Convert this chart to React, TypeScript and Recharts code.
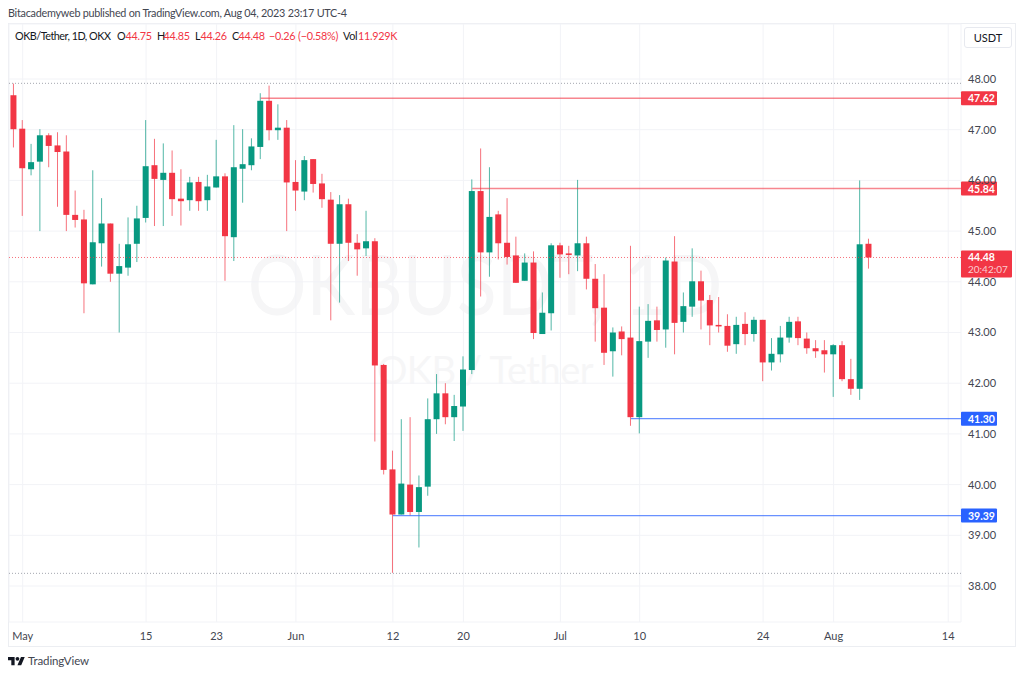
import { Bar, CartesianGrid, ComposedChart, ReferenceLine, XAxis, YAxis } from "recharts";

const opens = [47.68, 47.02, 46.22, 46.37, 46.89, 46.69, 46.57, 45.32, 45.23, 43.95, 44.76, 45.15, 44.16, 44.28, 44.75, 45.26, 46.30, 46.01, 46.15, 45.64, 45.61, 45.97, 45.61, 45.86, 46.08, 44.88, 46.23, 46.30, 46.66, 47.57, 46.99, 47.04, 45.97, 45.78, 46.42, 45.94, 45.62, 44.75, 45.53, 44.77, 44.66, 44.80, 42.36, 40.30, 39.41, 40.00, 39.46, 39.96, 41.29, 41.80, 41.33, 41.54, 42.26, 45.79, 44.58, 45.33, 44.77, 44.52, 44.02, 44.38, 42.97, 43.38, 44.72, 44.56, 44.52, 44.76, 44.06, 43.49, 42.63, 43.02, 42.90, 41.33, 42.82, 43.24, 43.06, 44.40, 43.21, 43.51, 44.01, 43.64, 43.15, 43.13, 42.77, 43.17, 42.97, 43.25, 42.41, 42.57, 42.90, 43.22, 42.88, 42.69, 42.65, 42.57, 42.75, 42.08, 41.89, 44.75];
const closes = [47.01, 46.24, 46.36, 46.89, 46.68, 46.56, 45.32, 45.22, 43.97, 44.78, 45.15, 44.16, 44.31, 44.74, 45.25, 46.28, 46.03, 46.15, 45.63, 45.59, 45.96, 45.59, 45.88, 46.08, 44.90, 46.26, 46.32, 46.67, 47.57, 46.99, 47.04, 45.96, 45.80, 46.40, 45.93, 45.63, 44.75, 45.53, 44.77, 44.64, 44.80, 42.35, 40.29, 39.41, 40.02, 39.46, 39.95, 41.29, 41.80, 41.33, 41.55, 42.27, 45.79, 44.58, 45.28, 44.76, 44.49, 43.98, 44.38, 42.99, 43.39, 44.72, 44.54, 44.53, 44.76, 44.06, 43.48, 42.60, 43.00, 42.87, 41.33, 42.83, 43.23, 43.05, 44.42, 43.19, 43.52, 44.01, 43.63, 43.14, 43.12, 42.74, 43.15, 42.97, 43.25, 42.41, 42.58, 42.90, 43.21, 42.89, 42.69, 42.63, 42.57, 42.75, 42.08, 41.89, 44.74, 44.48];
const highs = [47.91, 47.19, 46.72, 47.01, 46.93, 46.95, 46.89, 45.80, 45.42, 46.20, 45.65, 45.15, 44.75, 45.27, 45.50, 47.19, 46.82, 46.73, 46.59, 46.22, 46.07, 46.07, 46.11, 46.80, 46.14, 47.09, 47.01, 46.83, 47.72, 47.87, 47.50, 47.19, 46.40, 46.48, 46.42, 46.13, 45.77, 45.71, 45.64, 44.94, 45.40, 44.86, 42.38, 40.67, 41.29, 41.33, 40.18, 41.70, 42.18, 42.00, 41.77, 42.53, 46.02, 46.63, 46.26, 45.40, 45.65, 44.89, 44.56, 44.60, 43.79, 44.76, 44.77, 44.71, 46.01, 44.89, 44.35, 44.15, 43.10, 43.12, 44.71, 43.51, 43.56, 43.51, 44.48, 44.90, 43.79, 44.66, 44.22, 43.74, 43.70, 43.36, 43.31, 43.40, 43.31, 43.25, 42.89, 43.13, 43.31, 43.31, 43.00, 42.85, 42.85, 42.77, 42.83, 42.48, 46.00, 44.85];
const lows = [46.65, 45.30, 46.10, 45.00, 46.26, 45.48, 45.00, 45.07, 43.38, 43.95, 44.30, 44.00, 43.00, 44.12, 44.39, 45.17, 45.10, 45.10, 45.30, 45.11, 45.40, 45.40, 45.40, 45.86, 44.02, 44.41, 45.56, 46.20, 46.42, 46.79, 46.80, 45.00, 45.40, 45.61, 45.76, 45.46, 43.24, 43.59, 44.41, 44.12, 44.51, 40.85, 40.20, 38.26, 39.41, 39.39, 38.76, 39.78, 41.00, 41.19, 40.86, 41.06, 42.18, 43.71, 44.10, 44.44, 44.34, 43.98, 44.02, 42.87, 42.97, 43.04, 44.08, 44.15, 44.21, 43.85, 42.82, 42.36, 42.13, 42.55, 41.16, 41.01, 42.50, 42.82, 42.70, 42.57, 43.00, 43.31, 43.06, 42.75, 43.00, 42.62, 42.58, 42.75, 42.82, 42.04, 42.25, 42.41, 42.80, 42.75, 42.58, 42.50, 42.21, 41.73, 42.04, 41.77, 41.67, 44.26];

const dateTicks = [1, 15, 23, 32, 43, 51, 62, 71, 85, 93, 106];
const dateLabels = ["May", "15", "23", "Jun", "12", "20", "Jul", "10", "24", "Aug", "14"];
const priceTicks = [38, 39, 40, 41, 42, 43, 44, 45, 46, 47, 48];

const candles = opens.map((open, i) => ({
    day: i,
    open,
    close: closes[i],
    high: highs[i],
    low: lows[i],
    range: [lows[i], highs[i]],
}));

const UP = "#089981";
const DOWN = "#F23645";
const BLUE = "#2962FF";
const FONT = "Lato, sans-serif";

function Candle(props: any) {
    const { x, y, width, height, payload } = props;
    const color = payload.close >= payload.open ? UP : DOWN;
    const perUnit = height / (payload.high - payload.low);
    const bodyTop = y + (payload.high - Math.max(payload.open, payload.close)) * perUnit;
    const bodyH = Math.max(Math.abs(payload.open - payload.close) * perUnit, 1);
    return (
        <g>
            <line x1={x + width / 2} x2={x + width / 2} y1={y} y2={y + height} stroke={color} strokeOpacity={0.7} strokeWidth={1} />
            <rect x={x} y={bodyTop} width={width} height={bodyH} fill={color} />
        </g>
    );
}

function PriceTag({ viewBox, text, color }: any) {
    const right = viewBox.x + viewBox.width;
    return (
        <g>
            <rect x={right} y={viewBox.y - 7} width={36} height={14} rx={1} fill={color} />
            <text x={right + 7} y={viewBox.y + 4} fill="#fff" fontSize={10.5} fontWeight={700} fontFamily={FONT}>{text}</text>
        </g>
    );
}

function LastTag({ viewBox }: any) {
    const right = viewBox.x + viewBox.width;
    return (
        <g>
            <rect x={right} y={viewBox.y - 7} width={51} height={27} rx={1} fill={DOWN} />
            <text x={right + 7} y={viewBox.y + 4} fill="#fff" fontSize={10.5} fontWeight={700} fontFamily={FONT}>44.48</text>
            <text x={right + 7} y={viewBox.y + 16} fill="#fff" fillOpacity={0.75} fontSize={10} fontFamily={FONT}>20:42:07</text>
        </g>
    );
}

const legendBits = [
    { x: 15, text: "OKB/Tether, 1D, OKX", color: "#131722", spacing: -0.5 },
    { x: 117, text: "O", color: "#131722", spacing: -0.25 },
    { x: 125.5, text: "44.75", color: DOWN, spacing: -0.25 },
    { x: 157, text: "H", color: "#131722", spacing: -0.25 },
    { x: 163.5, text: "44.85", color: DOWN, spacing: -0.25 },
    { x: 195, text: "L", color: "#131722", spacing: -0.25 },
    { x: 200.5, text: "44.26", color: DOWN, spacing: -0.25 },
    { x: 232, text: "C", color: "#131722", spacing: -0.25 },
    { x: 238.5, text: "44.48", color: DOWN, spacing: -0.25 },
    { x: 269, text: "−0.26", color: DOWN, spacing: -0.25 },
    { x: 298, text: "(−0.58%)", color: DOWN, spacing: -0.25 },
    { x: 343, text: "Vol", color: "#131722", spacing: -0.25 },
    { x: 358, text: "11.929K", color: DOWN, spacing: -0.25 },
];

export default function App() {
    return (
        <div style={{ position: "absolute", left: 0, top: 0, width: 1024, height: 676, background: "#fff", overflow: "hidden", fontFamily: FONT }}>
            <div style={{ position: "absolute", left: 8, top: 6, fontSize: 10.8, letterSpacing: -0.25, color: "#434651", whiteSpace: "nowrap" }}>
                Bitacademyweb published on TradingView.com, Aug 04, 2023 23:17 UTC-4
            </div>
            <div style={{ position: "absolute", left: 8, top: 23, width: 1006, height: 622, border: "1px solid #eceef2" }} />
            <div style={{ position: "absolute", left: 9, width: 952, top: 233, textAlign: "center", fontSize: 84, lineHeight: "100px", color: "#f6f6f7", whiteSpace: "nowrap", transform: "scaleX(0.875)" }}>
                OKBUSDT, 1D
            </div>
            <div style={{ position: "absolute", left: 9, width: 952, top: 345, textAlign: "center", fontSize: 38, letterSpacing: -0.5, lineHeight: "48px", color: "#f6f6f7", whiteSpace: "nowrap" }}>
                OKB / Tether
            </div>

            <div style={{ position: "absolute", left: 0, top: 0 }}>
                <ComposedChart width={1024} height={676} data={candles} margin={{ top: 24, right: 0, bottom: 0, left: 9 }}>
                    <CartesianGrid stroke="#f2f3f7" strokeWidth={1} />
                    <XAxis
                        dataKey="day"
                        type="number"
                        domain={[-0.55, 107.45]}
                        ticks={dateTicks}
                        tickFormatter={(v: number) => dateLabels[dateTicks.indexOf(v)]}
                        axisLine={false}
                        tickLine={false}
                        tickMargin={4}
                        interval={0}
                        height={54}
                        tick={{ fill: "#434651", fontSize: 11, fontFamily: FONT }}
                    />
                    <YAxis
                        orientation="right"
                        domain={[37.29, 49.085]}
                        ticks={priceTicks}
                        tickFormatter={(v: number) => v.toFixed(2)}
                        axisLine={false}
                        tickLine={false}
                        tickMargin={7}
                        tickSize={0}
                        interval={0}
                        width={63}
                        allowDataOverflow
                        tick={{ fill: "#434651", fontSize: 11, fontFamily: FONT, textAnchor: "start" }}
                    />
                    <ReferenceLine y={47.915} stroke="#a3a6af" strokeDasharray="1 2" />
                    <ReferenceLine y={38.25} stroke="#a3a6af" strokeDasharray="1 2" />
                    <Bar dataKey="range" barSize={6} shape={<Candle />} isAnimationActive={false} />
                    <ReferenceLine y={44.48} stroke={DOWN} strokeOpacity={0.7} strokeDasharray="1 2" label={<LastTag />} />
                    <ReferenceLine segment={[{ x: 28, y: 47.62 }, { x: 107.45, y: 47.62 }]} stroke={DOWN} strokeOpacity={0.6} strokeWidth={1.5} label={<PriceTag text="47.62" color={DOWN} />} />
                    <ReferenceLine segment={[{ x: 52, y: 45.84 }, { x: 107.45, y: 45.84 }]} stroke={DOWN} strokeOpacity={0.6} strokeWidth={1.5} label={<PriceTag text="45.84" color={DOWN} />} />
                    <ReferenceLine segment={[{ x: 70, y: 41.3 }, { x: 107.45, y: 41.3 }]} stroke={BLUE} strokeOpacity={0.7} strokeWidth={1.2} label={<PriceTag text="41.30" color={BLUE} />} />
                    <ReferenceLine segment={[{ x: 43, y: 39.39 }, { x: 107.45, y: 39.39 }]} stroke={BLUE} strokeOpacity={0.7} strokeWidth={1.2} label={<PriceTag text="39.39" color={BLUE} />} />
                </ComposedChart>
            </div>

            {legendBits.map((b) => (
                <div key={b.x} style={{ position: "absolute", left: b.x, top: 29, fontSize: 10.8, letterSpacing: b.spacing, color: b.color, whiteSpace: "nowrap" }}>{b.text}</div>
            ))}
            <div style={{ position: "absolute", left: 964, top: 27, width: 46, height: 19, border: "1px solid #e7e9ef", borderRadius: 3, background: "#fff", textAlign: "center", fontSize: 11, lineHeight: "19px", color: "#131722" }}>
                USDT
            </div>

            <svg style={{ position: "absolute", left: 8, top: 655 }} width={17} height={13.2} viewBox="0 0 36 28">
                <path d="M14 22H7V11H0V4h14v18zM28 22h-8l7.5-18h8L28 22z" fill="#131722" />
                <circle cx={20} cy={8} r={4} fill="#131722" />
            </svg>
            <div style={{ position: "absolute", left: 28, top: 654, fontSize: 11.5, letterSpacing: -0.1, color: "#434651" }}>TradingView</div>
        </div>
    );
}
